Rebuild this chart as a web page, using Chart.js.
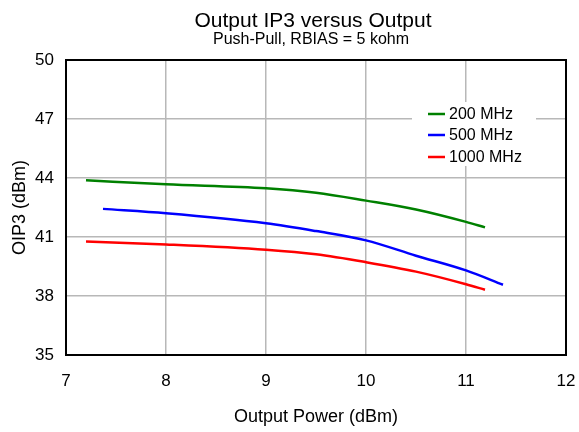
<!DOCTYPE html>
<html>
<head>
<meta charset="utf-8">
<script src="https://cdn.jsdelivr.net/npm/chart.js@4/dist/chart.umd.min.js"></script>
<style>
  html, body { margin: 0; padding: 0; background: #ffffff; }
  #wrap { width: 579px; height: 432px; }
</style>
</head>
<body>
<div id="wrap"><canvas id="c" width="579" height="432"></canvas></div>
<script>
const titleText = "Output IP3 versus Output";
const subtitleText = "Push-Pull, RBIAS = 5 kohm";
const xTitle = "Output Power (dBm)";
const yTitle = "OIP3 (dBm)";
const xTicks = [7, 8, 9, 10, 11, 12];
const yTicks = [35, 38, 41, 44, 47, 50];
const seriesLabels = ["200 MHz", "500 MHz", "1000 MHz"];
const seriesColors = ["#008000", "#0000ff", "#ff0000"];

const x200 = [7.2, 8, 9, 9.5, 10, 10.5, 11, 11.19];
const y200 = [43.88, 43.68, 43.48, 43.25, 42.85, 42.4, 41.77, 41.49];
const x500 = [7.37, 8, 9, 9.5, 10, 10.5, 11, 11.37];
const y500 = [42.43, 42.21, 41.7, 41.3, 40.83, 40.05, 39.3, 38.57];
const x1000 = [7.2, 8, 9, 9.5, 10, 10.5, 11, 11.19];
const y1000 = [40.77, 40.62, 40.35, 40.12, 39.72, 39.24, 38.6, 38.32];

const FONT = "'Liberation Sans', Arial, sans-serif";
const xs = [x200, x500, x1000];
const ys = [y200, y500, y1000];

const datasets = seriesLabels.map((lab, i) => ({
  label: lab,
  data: xs[i].map((x, j) => ({ x: x, y: ys[i][j] })),
  borderColor: seriesColors[i],
  backgroundColor: seriesColors[i],
  borderWidth: 2.5,
  pointRadius: 0,
  showLine: true,
  fill: false,
  cubicInterpolationMode: 'monotone'
}));

const decor = {
  id: 'decor',
  afterDatasetsDraw(chart) {
    const ctx = chart.ctx;
    const a = chart.chartArea;
    ctx.save();
    // frame
    ctx.strokeStyle = '#000000';
    ctx.lineWidth = 2;
    ctx.strokeRect(a.left, a.top, a.right - a.left, a.bottom - a.top);
    // legend box
    ctx.fillStyle = '#ffffff';
    ctx.fillRect(412, 102, 124, 64);
    ctx.font = '16px ' + FONT;
    ctx.textBaseline = 'middle';
    ctx.textAlign = 'left';
    const ly = [114, 135, 157];
    seriesLabels.forEach((lab, i) => {
      ctx.strokeStyle = seriesColors[i];
      ctx.lineWidth = 2.5;
      ctx.beginPath();
      ctx.moveTo(428, ly[i]);
      ctx.lineTo(445, ly[i]);
      ctx.stroke();
      ctx.fillStyle = '#000000';
      ctx.fillText(lab, 449, ly[i] + 1);
    });
    // titles
    ctx.textAlign = 'center';
    ctx.fillStyle = '#000000';
    ctx.font = '21px ' + FONT;
    ctx.fillText(titleText, 313, 21);
    ctx.font = '16px ' + FONT;
    ctx.fillText(subtitleText, 311, 40);
    ctx.restore();
  }
};

new Chart(document.getElementById('c'), {
  type: 'scatter',
  data: { datasets: datasets },
  options: {
    responsive: false,
    animation: false,
    layout: { padding: { left: 0, right: 13, top: 60, bottom: 0 } },
    plugins: {
      legend: { display: false },
      tooltip: { enabled: false },
      title: { display: false }
    },
    scales: {
      x: {
        type: 'linear',
        min: 7, max: 12,
        afterBuildTicks: (s) => { s.ticks = xTicks.map(v => ({ value: v })); },
        afterFit: (s) => { s.height = 77; s.paddingLeft = 0; s.paddingRight = 0; },
        grid: { color: '#b8b8b8', lineWidth: 1.5, drawTicks: false },
        border: { display: false },
        ticks: { color: '#000000', font: { family: FONT, size: 17 }, padding: 16, maxRotation: 0 },
        title: { display: true, text: xTitle, color: '#000000', font: { family: FONT, size: 18 }, padding: { top: 0, bottom: 4 } }
      },
      y: {
        type: 'linear',
        min: 35, max: 50,
        afterBuildTicks: (s) => { s.ticks = yTicks.map(v => ({ value: v })); },
        afterFit: (s) => { s.width = 66; s.paddingTop = 0; s.paddingBottom = 0; },
        grid: { color: '#b8b8b8', lineWidth: 1.5, drawTicks: false },
        border: { display: false },
        ticks: { color: '#000000', font: { family: FONT, size: 17 }, padding: 12 },
        title: { display: true, text: yTitle, color: '#000000', font: { family: FONT, size: 18 }, padding: { top: 9, bottom: 0 } }
      }
    }
  },
  plugins: [decor]
});
</script>
</body>
</html>
